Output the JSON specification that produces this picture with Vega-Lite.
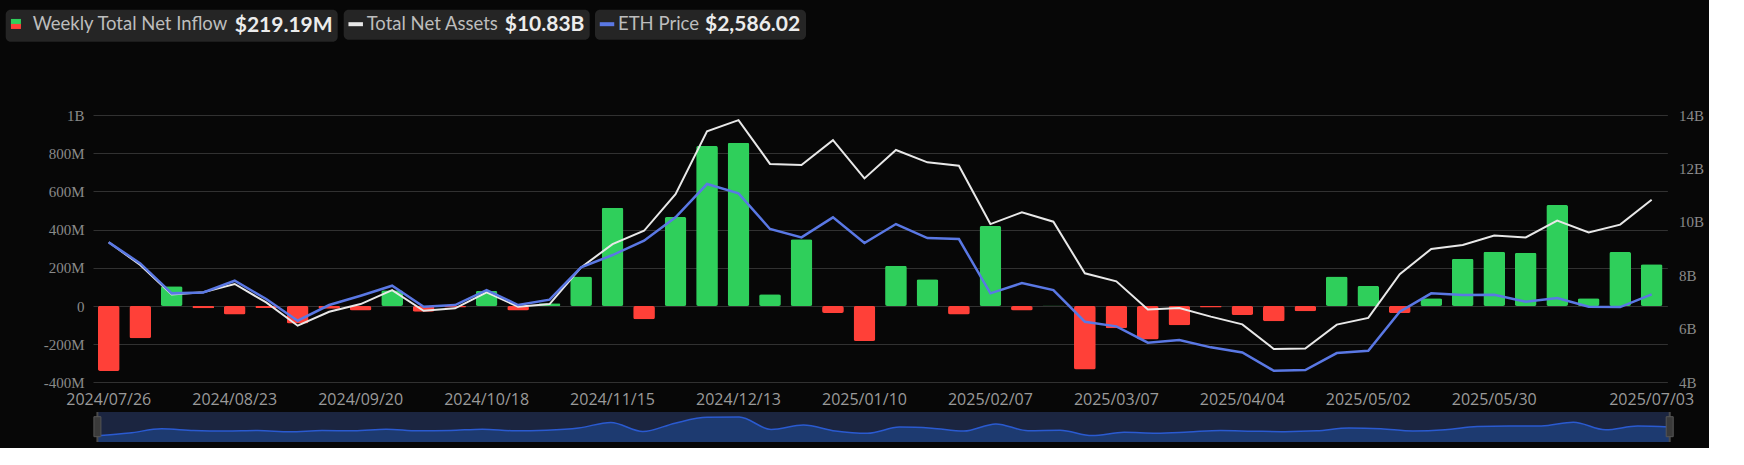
{
  "$schema": "https://vega.github.io/schema/vega-lite/v6.json",
  "background": "#070707",
  "padding": {"left": 5, "top": 9, "right": 5, "bottom": 5},
  "config": {
    "view": {"stroke": null},
    "legend": {
      "orient": "none",
      "fillColor": "#252525",
      "cornerRadius": 5,
      "padding": 5,
      "labelFont": "Lato",
      "labelFontSize": 18.5,
      "labelColor": "#bdbdbd",
      "titleFont": "Lato",
      "titleFontSize": 21,
      "titleFontWeight": "bold",
      "titleColor": "#ececec",
      "titleOrient": "right",
      "titlePadding": 6,
      "titleAnchor": "middle",
      "titleBaseline": "middle",
      "labelLimit": 600,
      "titleLimit": 600
    }
  },
  "datasets": {
    "weekly": [
      {"date": "2024/07/26", "inflow": -340000000, "assets": 9240000000, "eth": 3278},
      {"date": "2024/08/02", "inflow": -169000000, "assets": 8390000000, "eth": 2999},
      {"date": "2024/08/09", "inflow": 103000000, "assets": 7290000000, "eth": 2600},
      {"date": "2024/08/16", "inflow": -12000000, "assets": 7370000000, "eth": 2613},
      {"date": "2024/08/23", "inflow": -44000000, "assets": 7680000000, "eth": 2768},
      {"date": "2024/08/30", "inflow": -10000000, "assets": 6990000000, "eth": 2525},
      {"date": "2024/09/06", "inflow": -92000000, "assets": 6120000000, "eth": 2236},
      {"date": "2024/09/13", "inflow": -14000000, "assets": 6640000000, "eth": 2445},
      {"date": "2024/09/20", "inflow": -24000000, "assets": 6930000000, "eth": 2569},
      {"date": "2024/09/27", "inflow": 82000000, "assets": 7450000000, "eth": 2702},
      {"date": "2024/10/04", "inflow": -30000000, "assets": 6680000000, "eth": 2423},
      {"date": "2024/10/11", "inflow": -8000000, "assets": 6770000000, "eth": 2445},
      {"date": "2024/10/18", "inflow": 79000000, "assets": 7370000000, "eth": 2644},
      {"date": "2024/10/25", "inflow": -24000000, "assets": 6830000000, "eth": 2445},
      {"date": "2024/11/01", "inflow": 14000000, "assets": 6930000000, "eth": 2516},
      {"date": "2024/11/08", "inflow": 155000000, "assets": 8300000000, "eth": 2946},
      {"date": "2024/11/15", "inflow": 515000000, "assets": 9170000000, "eth": 3110},
      {"date": "2024/11/22", "inflow": -70000000, "assets": 9670000000, "eth": 3300},
      {"date": "2024/11/29", "inflow": 466000000, "assets": 11040000000, "eth": 3611},
      {"date": "2024/12/06", "inflow": 838000000, "assets": 13390000000, "eth": 4054},
      {"date": "2024/12/13", "inflow": 855000000, "assets": 13810000000, "eth": 3930},
      {"date": "2024/12/20", "inflow": 61000000, "assets": 12170000000, "eth": 3456},
      {"date": "2024/12/27", "inflow": 349000000, "assets": 12130000000, "eth": 3345},
      {"date": "2025/01/03", "inflow": -37000000, "assets": 13060000000, "eth": 3611},
      {"date": "2025/01/10", "inflow": -183000000, "assets": 11630000000, "eth": 3269},
      {"date": "2025/01/17", "inflow": 211000000, "assets": 12690000000, "eth": 3522},
      {"date": "2025/01/24", "inflow": 140000000, "assets": 12230000000, "eth": 3336},
      {"date": "2025/01/31", "inflow": -44000000, "assets": 12100000000, "eth": 3323},
      {"date": "2025/02/07", "inflow": 419000000, "assets": 9920000000, "eth": 2600},
      {"date": "2025/02/14", "inflow": -23000000, "assets": 10360000000, "eth": 2737},
      {"date": "2025/02/21", "inflow": 3000000, "assets": 10010000000, "eth": 2644},
      {"date": "2025/02/28", "inflow": -332000000, "assets": 8080000000, "eth": 2223},
      {"date": "2025/03/07", "inflow": -117000000, "assets": 7780000000, "eth": 2161},
      {"date": "2025/03/14", "inflow": -176000000, "assets": 6730000000, "eth": 1944},
      {"date": "2025/03/21", "inflow": -101000000, "assets": 6780000000, "eth": 1979},
      {"date": "2025/03/28", "inflow": -8000000, "assets": 6460000000, "eth": 1882},
      {"date": "2025/04/04", "inflow": -47000000, "assets": 6170000000, "eth": 1815},
      {"date": "2025/04/11", "inflow": -80000000, "assets": 5250000000, "eth": 1571},
      {"date": "2025/04/17", "inflow": -28000000, "assets": 5270000000, "eth": 1580},
      {"date": "2025/04/25", "inflow": 155000000, "assets": 6160000000, "eth": 1806},
      {"date": "2025/05/02", "inflow": 105000000, "assets": 6410000000, "eth": 1837},
      {"date": "2025/05/09", "inflow": -37000000, "assets": 8050000000, "eth": 2356},
      {"date": "2025/05/16", "inflow": 40000000, "assets": 8990000000, "eth": 2600},
      {"date": "2025/05/23", "inflow": 248000000, "assets": 9140000000, "eth": 2578},
      {"date": "2025/05/30", "inflow": 284000000, "assets": 9490000000, "eth": 2582},
      {"date": "2025/06/06", "inflow": 279000000, "assets": 9420000000, "eth": 2489},
      {"date": "2025/06/13", "inflow": 529000000, "assets": 10050000000, "eth": 2538},
      {"date": "2025/06/20", "inflow": 40000000, "assets": 9610000000, "eth": 2423},
      {"date": "2025/06/27", "inflow": 283000000, "assets": 9900000000, "eth": 2418},
      {"date": "2025/07/03", "inflow": 219190000, "assets": 10830000000, "eth": 2586.02}
    ],
    "ends": [
      {"date": "2024/07/26"},
      {"date": "2025/07/03"}
    ]
  },
  "vconcat": [
    {
      "width": 1574.4,
      "height": 267.4,
      "data": {"name": "weekly"},
      "layer": [
        {
          "mark": {"type": "bar", "cornerRadius": 2},
          "encoding": {
            "x": {
              "field": "date", "type": "ordinal", "sort": null,
              "scale": {"type": "band", "paddingInner": 0.31, "paddingOuter": 0.155},
              "axis": {
                "values": ["2024/07/26", "2024/08/23", "2024/09/20", "2024/10/18", "2024/11/15", "2024/12/13", "2025/01/10", "2025/02/07", "2025/03/07", "2025/04/04", "2025/05/02", "2025/05/30", "2025/07/03"],
                "labelAngle": 0, "ticks": false, "domain": false, "grid": false, "title": null,
                "labelOverlap": false, "labelBound": false,
                "labelFont": "Open Sans", "labelFontSize": 16, "labelColor": "#9a9a9a", "labelPadding": 9
              }
            },
            "y": {
              "field": "inflow", "type": "quantitative",
              "scale": {"domain": [-400000000, 1000000000], "nice": false, "zero": false},
              "axis": {
                "orient": "left",
                "values": [-400000000, -200000000, 0, 200000000, 400000000, 600000000, 800000000, 1000000000],
                "labelExpr": "datum.value == 0 ? '0' : (abs(datum.value) >= 1000000000 ? (datum.value / 1000000000) + 'B' : (datum.value / 1000000) + 'M')",
                "grid": true, "gridColor": "#313131", "gridWidth": 1,
                "domain": false, "ticks": false, "title": null,
                "labelFont": "Liberation Serif", "labelFontSize": 15, "labelColor": "#8a8a8a", "labelPadding": 9
              }
            },
            "fill": {
              "condition": {"test": "datum.inflow < 0", "value": "#ff4038"},
              "value": "#2fcf5b"
            }
          }
        },
        {
          "data": {"values": []},
          "mark": {"type": "bar", "fill": "#2fcf5b", "stroke": "#ff4038"},
          "encoding": {
            "opacity": {
              "datum": "Weekly Total Net Inflow",
              "scale": {"range": [1]},
              "legend": {
                "legendX": -87.3, "legendY": -105.3,
                "title": "$219.19M",
                "symbolType": "M-1,0.5L1,0.5L1,-1L-1,-1Z",
                "symbolSize": 100,
                "symbolStrokeWidth": 5,
                "symbolDash": [10, 1000],
                "symbolOffset": -4,
                "labelOffset": 7.5
              }
            }
          }
        },
        {
          "mark": {"type": "line", "strokeWidth": 2},
          "encoding": {
            "x": {"field": "date", "type": "ordinal", "sort": null, "bandPosition": 0.5},
            "y": {
              "field": "assets", "type": "quantitative",
              "scale": {"domain": [4000000000, 14000000000], "nice": false, "zero": false},
              "axis": {
                "orient": "right",
                "values": [4000000000, 6000000000, 8000000000, 10000000000, 12000000000, 14000000000],
                "labelExpr": "(datum.value / 1000000000) + 'B'",
                "grid": false, "domain": false, "ticks": false, "title": null,
                "labelFont": "Liberation Serif", "labelFontSize": 15, "labelColor": "#8a8a8a", "labelPadding": 11
              }
            },
            "stroke": {
              "datum": "Total Net Assets",
              "scale": {"range": ["#e8e8e8"]},
              "legend": {
                "legendX": 250.7, "legendY": -105.3,
                "title": "$10.83B",
                "symbolType": "stroke", "symbolSize": 210, "symbolStrokeWidth": 4,
                "symbolOffset": -2.5,
                "labelOffset": 1.5
              }
            }
          }
        },
        {
          "mark": {"type": "line", "strokeWidth": 2.5},
          "encoding": {
            "x": {"field": "date", "type": "ordinal", "sort": null, "bandPosition": 0.5},
            "y": {
              "field": "eth", "type": "quantitative",
              "scale": {"domain": [1416, 4972], "nice": false, "zero": false},
              "axis": null
            },
            "color": {
              "datum": "ETH Price",
              "scale": {"range": ["#5a78e4"]},
              "legend": {
                "legendX": 502, "legendY": -105.3,
                "title": "$2,586.02",
                "symbolType": "stroke", "symbolSize": 210, "symbolStrokeWidth": 4,
                "symbolOffset": -2.5,
                "labelOffset": 1.5
              }
            }
          }
        }
      ],
      "resolve": {"scale": {"y": "independent"}, "axis": {"y": "independent"}}
    },
    {
      "width": 1581.1,
      "height": 30,
      "encoding": {
        "x": {
          "field": "date", "type": "ordinal", "sort": null,
          "scale": {
            "type": "point", "padding": 0.137,
            "domain": ["2024/07/26", "2024/08/02", "2024/08/09", "2024/08/16", "2024/08/23", "2024/08/30", "2024/09/06", "2024/09/13", "2024/09/20", "2024/09/27", "2024/10/04", "2024/10/11", "2024/10/18", "2024/10/25", "2024/11/01", "2024/11/08", "2024/11/15", "2024/11/22", "2024/11/29", "2024/12/06", "2024/12/13", "2024/12/20", "2024/12/27", "2025/01/03", "2025/01/10", "2025/01/17", "2025/01/24", "2025/01/31", "2025/02/07", "2025/02/14", "2025/02/21", "2025/02/28", "2025/03/07", "2025/03/14", "2025/03/21", "2025/03/28", "2025/04/04", "2025/04/11", "2025/04/17", "2025/04/25", "2025/05/02", "2025/05/09", "2025/05/16", "2025/05/23", "2025/05/30", "2025/06/06", "2025/06/13", "2025/06/20", "2025/06/27", "2025/07/03"]
          },
          "axis": null
        }
      },
      "layer": [
        {
          "data": {"name": "ends"},
          "mark": {"type": "rect", "color": "#1b2540"},
          "encoding": {
            "x": {"datum": "2024/07/26"},
            "x2": {"datum": "2025/07/03"}
          }
        },
        {
          "data": {"name": "weekly"},
          "mark": {"type": "area", "interpolate": "monotone", "color": "#1d3a70"},
          "encoding": {
            "y": {"field": "inflow", "type": "quantitative", "scale": {"domain": [-744000000, 1181000000], "nice": false, "zero": false}, "axis": null},
            "y2": {"datum": -744000000}
          }
        },
        {
          "data": {"name": "weekly"},
          "mark": {"type": "line", "interpolate": "monotone", "color": "#2a5ad0", "strokeWidth": 1.5},
          "encoding": {
            "y": {"field": "inflow", "type": "quantitative", "axis": null}
          }
        },
        {
          "data": {"name": "ends"},
          "mark": {"type": "rule", "color": "#4a4a4a", "strokeWidth": 2},
          "encoding": {"y": {"datum": 1181000000, "type": "quantitative", "axis": null}, "y2": {"datum": -744000000}}
        },
        {
          "data": {"name": "ends"},
          "mark": {"type": "point", "shape": "M-0.35,-1L0.35,-1L0.35,1L-0.35,1Z", "size": 400, "filled": true, "fill": "#3a3a3a", "stroke": "#555555", "strokeWidth": 1, "opacity": 1},
          "encoding": {"y": {"datum": 238000000, "type": "quantitative", "axis": null}}
        }
      ]
    }
  ],
  "spacing": 3
}
